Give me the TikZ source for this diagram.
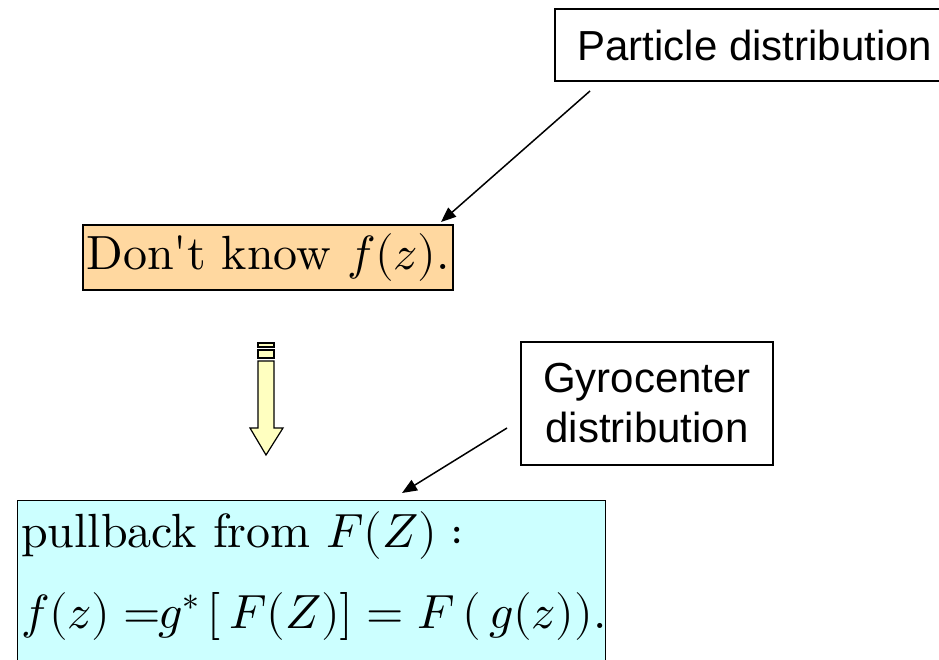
\documentclass[tikz,border=0pt]{standalone}
\usepackage{fontspec}
\usepackage{unicode-math}
\setmainfont{lmroman10-regular.otf}
\setmathfont{latinmodern-math.otf}
\newfontfamily\arialfont{Liberation Sans}
\usetikzlibrary{arrows.meta}
\definecolor{peach}{HTML}{FFD8A0}
\definecolor{lightcyan}{HTML}{CCFFFF}
\definecolor{paleyellow}{HTML}{FFFFC0}
\tikzset{
  calloutbox/.style={draw=black, line width=1.4pt, fill=white, inner sep=0pt, align=center,
    font=\arialfont\fontsize{42}{50}\selectfont},
  mathbox/.style={draw=black, line width=1.4pt, inner sep=0pt},
  pointer/.style={line width=1.5pt, -{Triangle[length=15pt,width=12pt]}},
  striped/.style={draw=black, line width=1.2pt, fill=paleyellow, line join=miter},
}
\begin{document}
\begin{tikzpicture}[x=1pt,y=-1pt]
\clip (0,0) rectangle (939,659);
\fill[white] (0,0) rectangle (939,659);

% callout boxes
\node[calloutbox, minimum width=400pt, minimum height=72pt] (pd) at (755,45) {Particle distribution};
\node[calloutbox, minimum width=252pt, minimum height=123pt] (gc) at (647,403.5) {Gyrocenter\\distribution};

% math boxes
\node[mathbox, fill=peach, minimum width=370pt, minimum height=65pt,
      font=\fontsize{48}{58}\selectfont] (dk) at (268,257.5) {Don\textquotesingle t know $f(z)$.};
\node[mathbox, fill=lightcyan, anchor=north west, minimum width=588pt, minimum height=220pt] (pb) at (17,500) {};
\node[anchor=north west, inner sep=0pt, align=left, font=\fontsize{48}{81}\selectfont] (pbtext) at (21,500)
  {\rule{0pt}{47pt}pullback from $F(Z):$\\
   $f(z)\mathrel{=}\!\!g^{*}\,[\,F(Z)]\mathrel{=}F\,(\,g(z)).$};

% connectors
\coordinate (pdfoot) at (590,91);
\coordinate (dktip) at (441,222);
\coordinate (gcfoot) at (507,428);
\coordinate (pbtip) at (402,493);
\draw[pointer] (pdfoot) -- (dktip);
\draw[pointer] (gcfoot) -- (pbtip);

% striped block arrow
\draw[striped] (258,343) rectangle (274,347);
\draw[striped] (258,350) rectangle (274,358);
\draw[striped] (258,361) -- (274,361) -- (274,428) -- (283,428) -- (266,455)
  -- (250,428) -- (258,428) -- cycle;
\end{tikzpicture}
\end{document}
